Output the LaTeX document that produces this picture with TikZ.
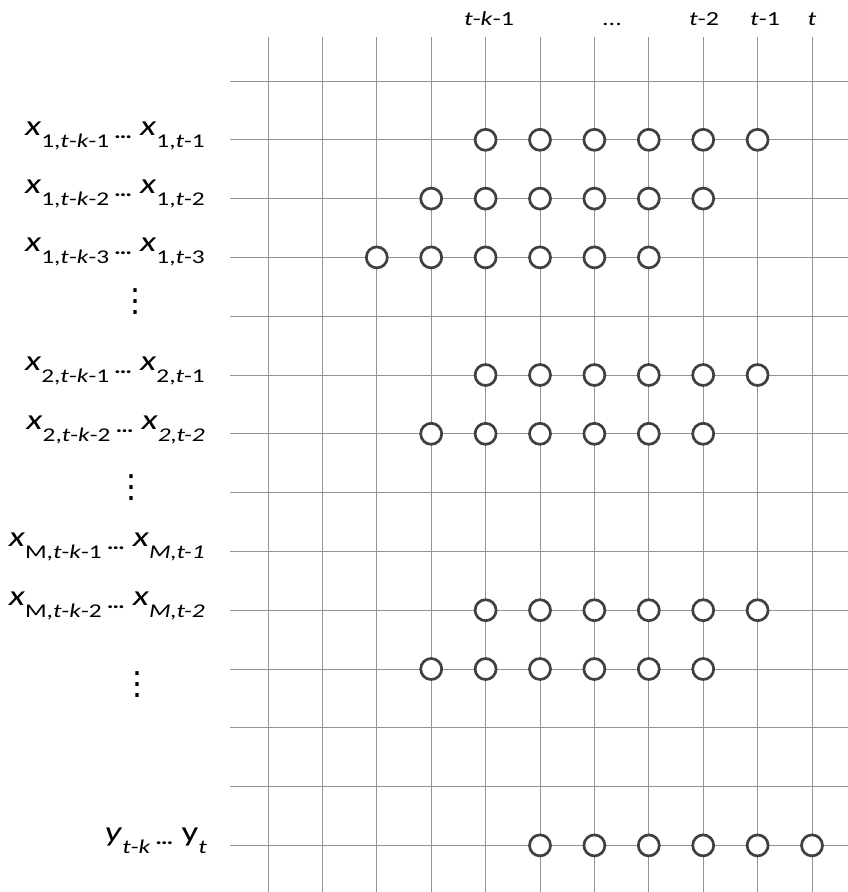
\documentclass[tikz,border=0pt]{standalone}
\usepackage{fontspec}
\setmainfont{Carlito}
\newfontfamily\labfont[FakeStretch=1.3]{Carlito}
\newfontfamily\symfont{DejaVu Sans}
\newcommand\mainsz{\labfont\fontsize{28.5}{30}\selectfont}
\newcommand\subsz{\fontsize{19.5}{21}\selectfont}
\newcommand\sbx[1]{\raisebox{-12pt}{\subsz #1}}
\newcommand\mdots{\hspace{5pt}\raisebox{-3pt}{\subsz\bfseries …}\hspace{8pt}}
\newcommand\tk{\textit{t}-\textit{k}}
\begin{document}
\begin{tikzpicture}[x=1pt,y=-1pt,
  gridline/.style={draw=black!42, line width=0.7pt},
  state/.style={circle, draw=black!75, fill=white, line width=2.7pt, minimum size=21pt, inner sep=0pt},
  lab/.style={anchor=base east, inner sep=0pt, font=\mainsz},
  hdr/.style={anchor=base, inner sep=0pt, font=\labfont\fontsize{20}{22}\selectfont},
  vdot/.style={inner sep=0pt, font=\symfont\fontsize{32}{34}\selectfont}]
\useasboundingbox (0,0) rectangle (848,892);
% grid
\foreach \i in {1,...,11} {
  \draw[gridline] ({268+54.4*(\i-1)},37) -- ({268+54.4*(\i-1)},892);
}
\foreach \j in {0,...,13} {
  \draw[gridline] (230,{81+58.8*\j}) -- (848,{81+58.8*\j});
}
% header labels
\node[hdr] (h1) at (489,25) {\tk-1};
\node[hdr] (h2) at (612,25) {...};
\node[hdr] (h3) at (704,25) {\textit{t}-2};
\node[hdr] (h4) at (765,25) {\textit{t}-1};
\node[hdr] (h5) at (812,25) {\textit{t}};
% states
\foreach \j/\a/\b in {1/5/10, 2/4/9, 3/3/8, 5/5/10, 6/4/9, 9/5/10, 10/4/9, 13/6/11} {
  \foreach \i in {\a,...,\b} {
    \node[state] (s\j-\i) at ({268+54.4*(\i-1)},{81+58.8*\j}) {};
  }
}
% row labels
\node[lab] (l1) at (205,135) {\textit{x}\sbx{1,\tk-1}\mdots\textit{x}\sbx{1,\textit{t}-1}};
\node[lab] (l2) at (205,193) {\textit{x}\sbx{1,\tk-2}\mdots\textit{x}\sbx{1,\textit{t}-2}};
\node[lab] (l3) at (205,251) {\textit{x}\sbx{1,\tk-3}\mdots\textit{x}\sbx{1,\textit{t}-3}};
\node[lab] (l5) at (205,370) {\textit{x}\sbx{2,\tk-1}\mdots\textit{x}\sbx{2,\textit{t}-1}};
\node[lab] (l6) at (205,429) {\textit{x}\sbx{2,\tk-2}\mdots\textit{x}\sbx{\textit{2,t-2}}};
\node[lab] (l8) at (205,546) {\textit{x}\sbx{M,\tk-1}\mdots\textit{x}\sbx{\textit{M,t-1}}};
\node[lab] (l9) at (205,605) {\textit{x}\sbx{M,\tk-2}\mdots\textit{x}\sbx{\textit{M,t-2}}};
\node[lab] (l13) at (207,841) {\textit{y}\sbx{\tk}\mdots y\sbx{\textit{t}}};
% vertical dots
\node[vdot] (d1) at (135,302) {⋮};
\node[vdot] (d2) at (131,488) {⋮};
\node[vdot] (d3) at (137,685) {⋮};
\end{tikzpicture}
\end{document}
